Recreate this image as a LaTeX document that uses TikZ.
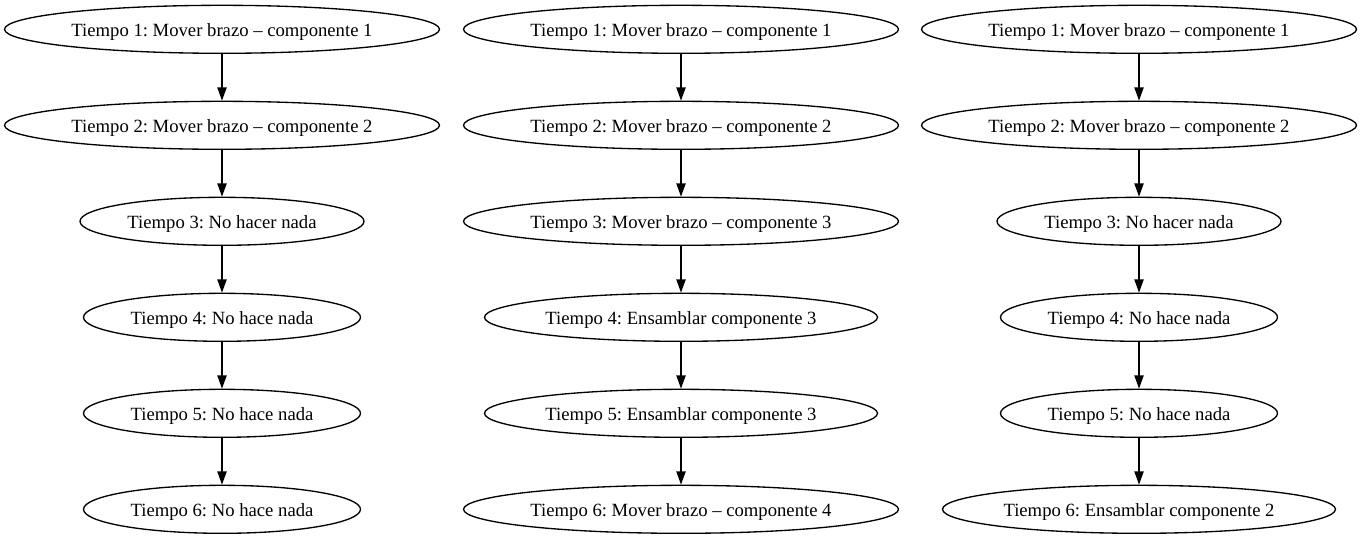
\documentclass[tikz,border=0pt]{standalone}
\usepackage{fontspec}
\setmainfont{Liberation Serif}
\usetikzlibrary{shapes.geometric,arrows.meta}
\frenchspacing
\tikzset{
  el/.style={ellipse, draw, line width=1.33pt, inner sep=0pt, minimum height=48pt,
    text height=18pt, text depth=3.2pt,
    font=\fontsize{18.67pt}{22pt}\selectfont\frenchspacing},
  wlong/.style={minimum width=435pt},
  wnada/.style={minimum width=284pt},
  wnad/.style={minimum width=277pt},
  wens/.style={minimum width=393pt},
  conn/.style={line width=1.33pt, -{Triangle[length=13.3pt,width=9.3pt]}}
}
\begin{document}
\begin{tikzpicture}[x=1pt,y=-1pt]
\useasboundingbox (0,0) rectangle (1362,539);
% column 1
\node[el,wlong] (a1) at (222,29.3) {Tiempo 1: Mover brazo – componente 1};
\node[el,wlong] (a2) at (222,125.3) {Tiempo 2: Mover brazo – componente 2};
\node[el,wnada] (a3) at (222,221.3) {Tiempo 3: No hacer nada};
\node[el,wnad] (a4) at (222,317.3) {Tiempo 4: No hace nada};
\node[el,wnad] (a5) at (222,413.3) {Tiempo 5: No hace nada};
\node[el,wnad] (a6) at (222,509.3) {Tiempo 6: No hace nada};
% column 2
\node[el,wlong] (b1) at (681,29.3) {Tiempo 1: Mover brazo – componente 1};
\node[el,wlong] (b2) at (681,125.3) {Tiempo 2: Mover brazo – componente 2};
\node[el,wlong] (b3) at (681,221.3) {Tiempo 3: Mover brazo – componente 3};
\node[el,wens] (b4) at (681,317.3) {Tiempo 4: Ensamblar componente 3};
\node[el,wens] (b5) at (681,413.3) {Tiempo 5: Ensamblar componente 3};
\node[el,wlong] (b6) at (681,509.3) {Tiempo 6: Mover brazo – componente 4};
% column 3
\node[el,wlong] (c1) at (1139,29.3) {Tiempo 1: Mover brazo – componente 1};
\node[el,wlong] (c2) at (1139,125.3) {Tiempo 2: Mover brazo – componente 2};
\node[el,wnada] (c3) at (1139,221.3) {Tiempo 3: No hacer nada};
\node[el,wnad] (c4) at (1139,317.3) {Tiempo 4: No hace nada};
\node[el,wnad] (c5) at (1139,413.3) {Tiempo 5: No hace nada};
\node[el,wens] (c6) at (1139,509.3) {Tiempo 6: Ensamblar componente 2};
\foreach \c in {a,b,c}{
  \draw[conn] (\c1) -- (\c2);
  \draw[conn] (\c2) -- (\c3);
  \draw[conn] (\c3) -- (\c4);
  \draw[conn] (\c4) -- (\c5);
  \draw[conn] (\c5) -- (\c6);
}
\end{tikzpicture}
\end{document}
